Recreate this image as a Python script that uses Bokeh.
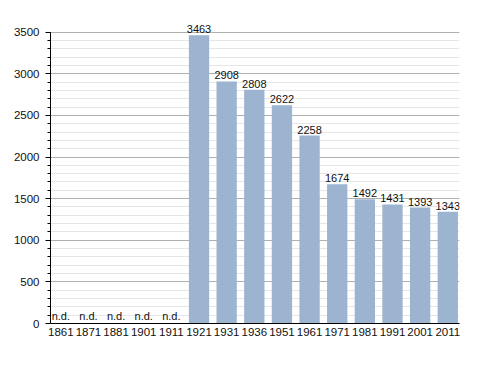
from bokeh.plotting import figure
from bokeh.models import ColumnDataSource, Range1d, FixedTicker, LabelSet
from bokeh.embed import file_html
from bokeh.resources import INLINE
from bokeh.core.properties import value

years = ["1861", "1871", "1881", "1901", "1911", "1921", "1931", "1936",
         "1951", "1961", "1971", "1981", "1991", "2001", "2011"]
population = [None, None, None, None, None, 3463, 2908, 2808,
              2622, 2258, 1674, 1492, 1431, 1393, 1343]
y_ticks = [0, 500, 1000, 1500, 2000, 2500, 3000, 3500]

heights = [v if v is not None else 0 for v in population]
labels = [str(v) if v is not None else "n.d." for v in population]
xpos = [i + 0.5 for i in range(len(years))]

src = ColumnDataSource(dict(x=xpos, year=years, pop=heights, label=labels))

p = figure(x_range=Range1d(0.127, 14.924), y_range=Range1d(0, 3700),
           width=480, height=365,
           output_backend="svg", toolbar_location=None,
           min_border_left=50, min_border_right=21, min_border_top=15,
           min_border_bottom=42)
p.outline_line_color = None
p.background_fill_color = "white"

p.vbar(x="x", top="pop", width=0.735, source=src,
       fill_color="#9cb4d0", line_color=None)

lab = LabelSet(x="x", y="pop", text="label", source=src,
               text_align="center", text_baseline="bottom", y_offset=2,
               text_font=value("Liberation Sans"), text_font_size="11px",
               text_color="#111111")
p.add_layout(lab)

p.yaxis.ticker = FixedTicker(ticks=y_ticks,
                             minor_ticks=list(range(0, 3501, 100)))
p.yaxis.bounds = (0, 3500)
p.yaxis.major_label_text_font = "Liberation Sans"
p.yaxis.major_label_text_font_size = "11.5px"
p.yaxis.major_label_text_color = "#111111"
p.yaxis.axis_line_color = "black"
p.yaxis.major_tick_line_color = "black"
p.yaxis.minor_tick_line_color = "black"
p.yaxis.major_tick_out = 5
p.yaxis.major_tick_in = 0
p.yaxis.minor_tick_out = 3
p.yaxis.minor_tick_in = 0
p.yaxis.major_label_standoff = 6

p.xaxis.ticker = FixedTicker(ticks=xpos, minor_ticks=[])
p.xaxis.major_label_overrides = {x: y for x, y in zip(xpos, years)}
p.xaxis.major_label_text_font = "Liberation Sans"
p.xaxis.major_label_text_font_size = "11.5px"
p.xaxis.major_label_text_color = "#111111"
p.xaxis.axis_line_color = "black"
p.xaxis.major_tick_line_color = None
p.xaxis.minor_tick_line_color = None
p.xaxis.major_tick_out = 0
p.xaxis.major_tick_in = 0
p.xaxis.major_label_standoff = 4

p.xgrid.grid_line_color = None
p.ygrid.bounds = (0, 3500)
p.ygrid.grid_line_color = "#b0b0b0"
p.ygrid.minor_grid_line_color = "#e6e6e6"
p.ygrid.level = "underlay"

open("out.html", "w").write(file_html(p, INLINE))
